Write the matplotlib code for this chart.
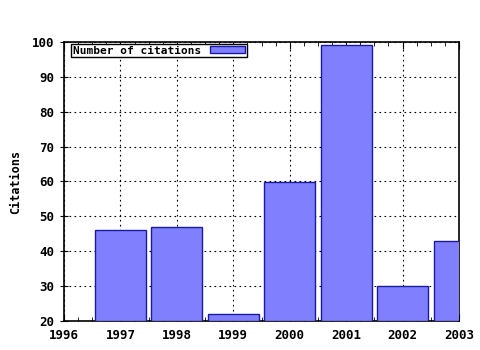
import matplotlib
matplotlib.use('Agg')
import matplotlib.pyplot as plt
from matplotlib.ticker import MultipleLocator

years = [1997, 1998, 1999, 2000, 2001, 2002, 2003]
citations = [46, 47, 22, 60, 99, 30, 43]

plt.rcParams['font.family'] = 'DejaVu Sans Mono'
plt.rcParams['font.weight'] = 'bold'
plt.rcParams['axes.labelweight'] = 'bold'
plt.rcParams['font.size'] = 8.5

fig = plt.figure(figsize=(4.8, 3.5), dpi=100)
ax = fig.add_axes([64/480, 1-321/350, (459-64)/480, (321-42)/350])

ax.bar(years, [c - 20 for c in citations], bottom=20, width=0.9,
       color='#8080ff', edgecolor='#1a1aa0', linewidth=1.0,
       label='Number of citations', zorder=3)

ax.set_xlim(1996, 2003)
ax.set_ylim(20, 100)
ax.xaxis.set_major_locator(MultipleLocator(1))
ax.xaxis.set_minor_locator(MultipleLocator(0.25))
ax.yaxis.set_major_locator(MultipleLocator(10))
ax.grid(True, which='major', color='black', linestyle=(0, (1.5, 3)), linewidth=0.8, zorder=0)
ax.tick_params(axis='x', which='both', direction='in', top=True, bottom=True, pad=6, labelsize=9)
ax.tick_params(axis='x', which='major', length=5)
ax.tick_params(axis='x', which='minor', length=3)
ax.tick_params(axis='y', direction='inout', length=6, left=True, right=False, labelsize=9, pad=4)
for s in ax.spines.values():
    s.set_linewidth(1.2)
ax.set_ylabel('Citations', labelpad=7)

ax.legend(loc='upper left', bbox_to_anchor=(7/395, 1 - 2/279), markerfirst=False,
          frameon=True, fancybox=False, edgecolor='black', borderpad=0.15,
          handlelength=3.2, handleheight=0.6, borderaxespad=0, framealpha=1,
          fontsize=8)

fig.savefig('out.png', dpi=100)
